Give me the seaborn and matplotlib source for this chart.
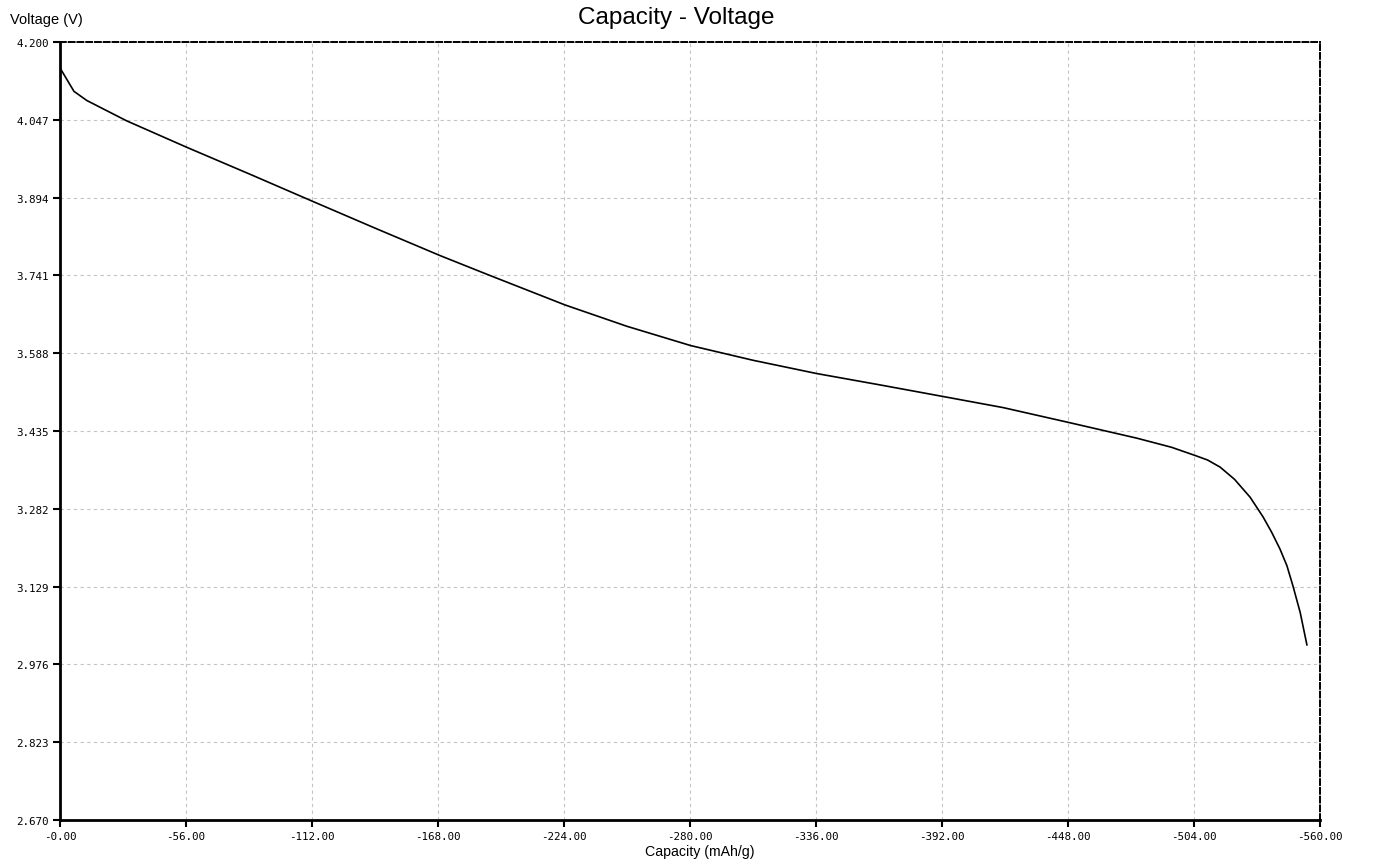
import matplotlib
matplotlib.use("Agg")
import matplotlib.pyplot as plt
import seaborn as sns
import pandas as pd
import numpy as np

# Data
capacity = [0, -6.2, -11.9, -29.6, -56.3, -84.4, -112.1, -140.0, -168.9, -191.0,
            -224.4, -251.9, -280.3, -308.1, -336.3, -364.0, -392.3, -419.2,
            -448.1, -478.5, -494.0, -504.4, -510.0, -515.6, -522.0, -528.9,
            -534.7, -538.5, -542.2, -545.3, -548.0, -551.2, -554.2]
voltage = [4.149, 4.103, 4.085, 4.045, 3.993, 3.940, 3.887, 3.834, 3.780, 3.741,
           3.683, 3.641, 3.603, 3.574, 3.548, 3.526, 3.503, 3.481,
           3.452, 3.421, 3.403, 3.387, 3.378, 3.364, 3.340, 3.305,
           3.266, 3.236, 3.203, 3.170, 3.130, 3.078, 3.014]

x_ticks = [0, -56, -112, -168, -224, -280, -336, -392, -448, -504, -560]
x_tick_labels = ["-0.00", "-56.00", "-112.00", "-168.00", "-224.00", "-280.00",
                 "-336.00", "-392.00", "-448.00", "-504.00", "-560.00"]
y_ticks = [2.670, 2.823, 2.976, 3.129, 3.282, 3.435, 3.588, 3.741, 3.894, 4.047, 4.200]
y_tick_labels = ["2.670", "2.823", "2.976", "3.129", "3.282", "3.435", "3.588",
                 "3.741", "3.894", "4.047", "4.200"]

title = "Capacity - Voltage"
x_label = "Capacity (mAh/g)"
y_label = "Voltage (V)"

sns.set_style("white")
plt.rcParams["font.family"] = ["Liberation Sans", "DejaVu Sans"]
plt.rcParams["text.color"] = "black"
plt.rcParams["xtick.color"] = "black"
plt.rcParams["ytick.color"] = "black"

df = pd.DataFrame({"capacity": capacity, "voltage": voltage})

fig = plt.figure(figsize=(13.76, 8.62), dpi=100)
ax = fig.add_axes([60 / 1376, 1 - 821 / 862, 1260 / 1376, 778 / 862])

sns.lineplot(data=df, x="capacity", y="voltage", ax=ax, color="black",
             linewidth=1.2, sort=False, estimator=None)

ax.set_xlim(0, -560)
ax.set_ylim(2.670, 4.200)
ax.set_xticks(x_ticks)
ax.set_xticklabels(x_tick_labels, family="DejaVu Sans Mono", fontsize=7.8)
ax.set_yticks(y_ticks)
ax.set_yticklabels(y_tick_labels, family="DejaVu Sans Mono", fontsize=7.8)
ax.set_xlabel("")
ax.set_ylabel("")

ax.grid(True, color="#c4c4c4", linestyle=(0, (3, 3)), linewidth=0.8)
ax.set_axisbelow(True)

ax.tick_params(axis="both", direction="out", length=5, width=1.5, color="black",
               labelcolor="black", pad=3, left=True, bottom=True)

for side in ["left", "bottom"]:
    ax.spines[side].set_color("black")
    ax.spines[side].set_linewidth(2.0)
for side in ["top", "right"]:
    ax.spines[side].set_color("black")
    ax.spines[side].set_linewidth(1.4)
    ax.spines[side].set_linestyle((0, (3, 1.5)))

fig.text(676 / 1376, 1 - 18 / 862, title, ha="center", va="center",
         fontsize=17.5, color="black")
fig.text(10 / 1376, 1 - 20 / 862, y_label, ha="left", va="center",
         fontsize=10.5, color="black")
fig.text(700 / 1376, 1 - 852 / 862, x_label, ha="center", va="center",
         fontsize=10.2, color="black")

fig.savefig("out.png", dpi=100)
